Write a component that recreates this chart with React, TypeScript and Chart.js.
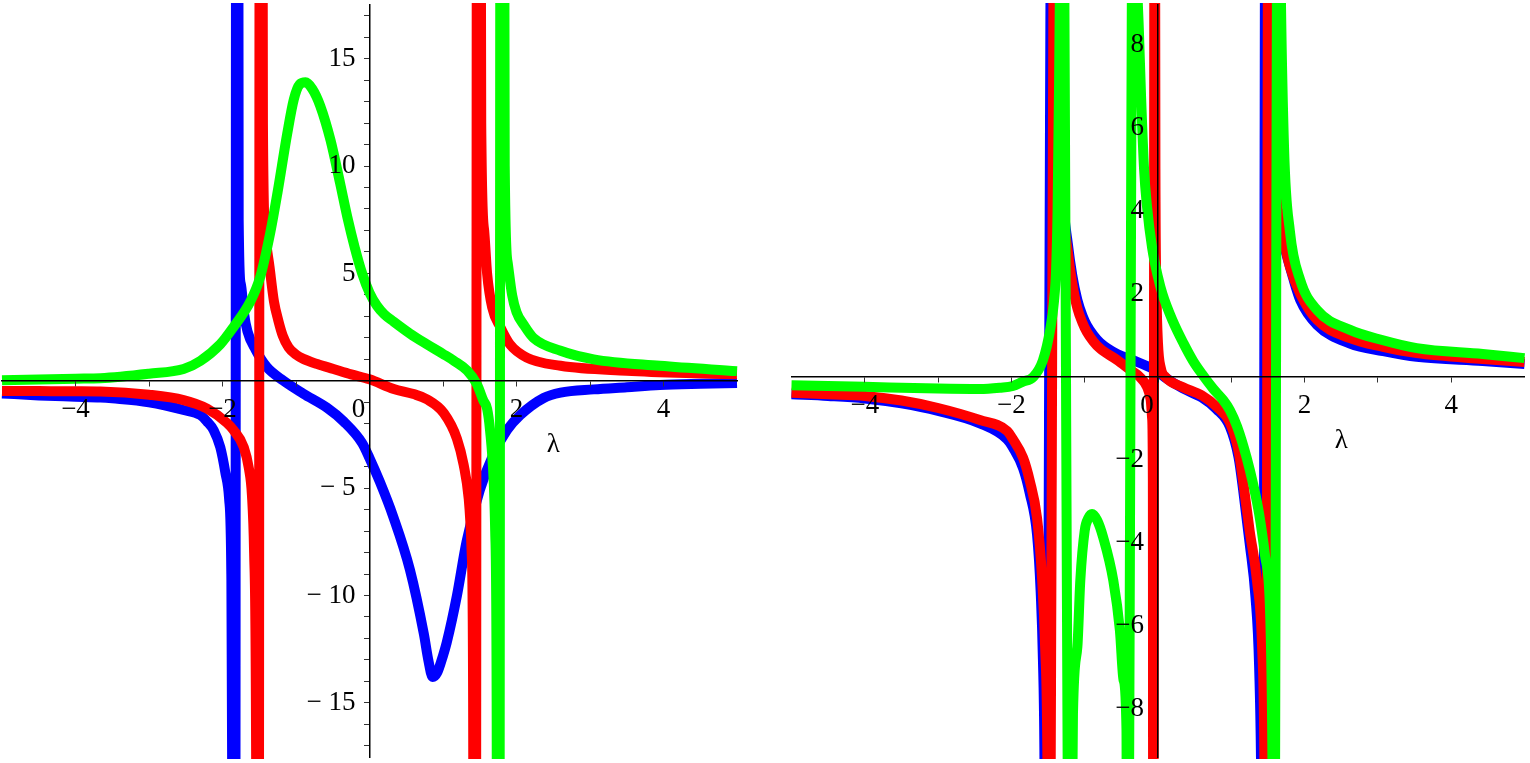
import React, { useEffect, useRef } from 'react';
import { Chart, registerables } from 'chart.js';

Chart.register(...registerables);

// ---------- data: left panel ----------
const leftBlueX = [-5, -4.5, -4, -3.66, -3.5, -3, -2.53, -2.3, -2.21, -2.12, -2.03, -1.96, -1.91, -1.88, -1.86, -1.84, -1.8, -1.78, -1.75, -1.71, -1.66, -1.55, -1.4, -1.17, -0.9, -0.58, -0.35, -0.1, 0, 0.14, 0.32, 0.55, 0.74, 0.8, 0.86, 0.92, 1.0, 1.05, 1.19, 1.32, 1.5, 1.69, 1.87, 2.05, 2.37, 2.6, 3.05, 3.5, 3.95, 4.5, 5];
const leftBlueY = [-0.59, -0.68, -0.74, -0.78, -0.82, -1.0, -1.36, -1.6, -1.9, -2.3, -3.1, -4.3, -5.5, -9, -25, -80, 80, 7.5, 4.5, 3.2, 2.3, 1.45, 0.65, 0.0, -0.6, -1.25, -1.9, -2.9, -3.6, -4.7, -6.3, -8.8, -11.8, -13.0, -13.8, -13.6, -12.8, -12.2, -10, -7.5, -5.1, -3.4, -2.3, -1.6, -0.8, -0.55, -0.4, -0.3, -0.2, -0.14, -0.1];

const leftRedX = [-5, -4.5, -4, -3.66, -3, -2.53, -2.21, -1.94, -1.85, -1.71, -1.64, -1.6, -1.57, -1.54, -1.52, -1.48, -1.45, -1.42, -1.36, -1.3, -1.24, -1.18, -1.1, -1.0, -0.9, -0.71, -0.49, -0.25, 0, 0.33, 0.6, 0.78, 1.01, 1.19, 1.28, 1.35, 1.39, 1.41, 1.43, 1.48, 1.52, 1.56, 1.6, 1.67, 1.78, 1.91, 2.14, 2.6, 3.5, 4.4, 5];
const leftRedY = [-0.47, -0.48, -0.49, -0.5, -0.65, -0.9, -1.3, -1.96, -2.3, -3.1, -4.1, -5.3, -8, -20, -80, 80, 12, 6.9, 5.3, 3.7, 2.8, 2.1, 1.55, 1.22, 1.02, 0.78, 0.55, 0.3, 0.07, -0.38, -0.62, -0.86, -1.5, -2.7, -3.9, -5.5, -8, -15, -80, 80, 12, 7, 5.0, 3.4, 2.5, 1.7, 1.08, 0.7, 0.47, 0.35, 0.3];

const leftGreenX = [-5, -4.5, -4, -3.66, -3, -2.53, -2.3, -2.03, -1.85, -1.62, -1.49, -1.35, -1.25, -1.12, -1.03, -0.95, -0.87, -0.78, -0.67, -0.53, -0.4, -0.3, -0.2, -0.1, 0, 0.1, 0.2, 0.33, 0.55, 0.78, 1.0, 1.15, 1.33, 1.46, 1.55, 1.6, 1.64, 1.69, 1.71, 1.73, 1.75, 1.8, 1.84, 1.88, 1.94, 2.0, 2.1, 2.23, 2.6, 3.05, 3.95, 5];
const leftGreenY = [0.02, 0.06, 0.1, 0.12, 0.33, 0.55, 0.93, 1.7, 2.5, 3.7, 4.8, 6.9, 8.8, 11.5, 13.1, 13.8, 13.9, 13.6, 12.8, 11.2, 9.2, 7.6, 6.2, 5.0, 4.1, 3.5, 3.1, 2.75, 2.2, 1.7, 1.25, 0.93, 0.47, -0.15, -0.93, -1.3, -2.3, -4.7, -7, -15, -80, 80, 10, 5.5, 4.0, 3.2, 2.6, 2.0, 1.4, 1.0, 0.7, 0.45];

// ---------- data: right panel ----------
const rightBlueX = [-5, -4.5, -4, -3.5, -3, -2.43, -2.06, -1.98, -1.84, -1.75, -1.65, -1.6, -1.57, -1.55, -1.53, -1.44, -1.4, -1.3, -1.23, -1.17, -1.1, -1.03, -0.97, -0.88, -0.79, -0.56, -0.34, -0.11, 0, 0.1, 0.34, 0.6, 0.8, 0.98, 1.1, 1.16, 1.25, 1.33, 1.38, 1.41, 1.43, 1.47, 1.5, 1.56, 1.62, 1.7, 1.84, 1.94, 2.17, 2.62, 3.07, 3.53, 4.43, 5];
const rightBlueY = [-0.42, -0.46, -0.52, -0.64, -0.82, -1.12, -1.5, -1.7, -2.2, -2.8, -3.8, -5.2, -6.8, -9, -16, 16, 9, 4.4, 3.2, 2.45, 1.85, 1.47, 1.24, 1.0, 0.82, 0.55, 0.4, 0.23, 0.12, -0.02, -0.28, -0.5, -0.78, -1.2, -1.95, -2.7, -4.0, -5.3, -7, -10, -16, 16, 7, 4.6, 3.9, 3.3, 2.4, 1.85, 1.25, 0.8, 0.62, 0.48, 0.38, 0.31];

const rightRedX = [-5, -4.5, -4, -3.5, -3, -2.43, -2.06, -1.98, -1.84, -1.75, -1.65, -1.58, -1.54, -1.51, -1.49, -1.4, -1.37, -1.3, -1.23, -1.17, -1.1, -1.03, -0.97, -0.88, -0.79, -0.56, -0.38, -0.25, -0.15, -0.1, -0.08, -0.07, -0.065, -0.045, -0.035, -0.02, 0, 0.04, 0.1, 0.34, 0.6, 0.8, 0.98, 1.1, 1.16, 1.25, 1.35, 1.42, 1.45, 1.47, 1.51, 1.55, 1.62, 1.7, 1.8, 1.94, 2.17, 2.62, 3.07, 3.53, 4.43, 5];
const rightRedY = [-0.38, -0.42, -0.46, -0.57, -0.75, -1.04, -1.3, -1.5, -1.95, -2.5, -3.4, -4.9, -6.5, -9, -16, 16, 8, 4.2, 3.0, 2.25, 1.65, 1.3, 1.08, 0.85, 0.68, 0.41, 0.17, 0.0, -0.24, -0.55, -1.0, -2.5, -16, 16, 5, 2, 0.8, 0.2, 0.0, -0.25, -0.45, -0.72, -1.1, -1.8, -2.5, -3.7, -4.9, -6.5, -9, -16, 16, 7, 4.3, 3.45, 2.65, 2.0, 1.37, 0.93, 0.72, 0.57, 0.43, 0.36];

const rightGreenX = [-5, -4, -3, -2.43, -2.16, -1.98, -1.85, -1.7, -1.57, -1.47, -1.42, -1.39, -1.37, -1.35, -1.33, -1.31, -1.2, -1.16, -1.1, -1.06, -1.0, -0.95, -0.9, -0.83, -0.75, -0.61, -0.52, -0.47, -0.43, -0.42, -0.33, -0.29, -0.26, -0.23, -0.19, -0.15, -0.08, 0, 0.06, 0.2, 0.35, 0.48, 0.6, 0.75, 0.89, 0.98, 1.08, 1.21, 1.3, 1.38, 1.46, 1.53, 1.56, 1.58, 1.64, 1.67, 1.72, 1.8, 1.94, 2.17, 2.62, 3.07, 3.53, 4.43, 5];
const rightGreenY = [-0.2, -0.24, -0.28, -0.29, -0.26, -0.22, -0.12, 0.0, 0.4, 1.15, 1.8, 2.6, 4, 7, 11, 16, -16, -8.1, -6.5, -4.9, -3.7, -3.4, -3.3, -3.45, -3.85, -4.9, -6.1, -7.3, -8.5, -16, 16, 10, 8.3, 6.7, 5.0, 4.1, 3.1, 2.4, 2.0, 1.35, 0.8, 0.38, 0.07, -0.28, -0.56, -0.8, -1.2, -1.95, -2.6, -3.3, -4.3, -5.7, -9, -16, 16, 10, 5.5, 3.5, 2.33, 1.61, 1.13, 0.88, 0.69, 0.55, 0.45];

// ---------- tick labels ----------
const xTickLabels = [-4, -2, 2, 4];
const leftYTickLabels = [-15, -10, -5, 5, 10, 15];
const rightYTickLabels = [-8, -6, -4, -2, 2, 4, 6, 8];
const xRange = [-5, 5];
const leftYRange = [-17.52, 17.5];
const rightYRange = [-9.15, 8.95];
const axisName = 'λ';
const originLabel = '0';

// ---------- styles ----------
const FONT_FAMILY = '"Liberation Serif", "Times New Roman", Times, serif';
const FONT_SIZE = 27;
const LINE_W = 10;
const BLUE = '#0000ff';
const RED = '#ff0000';
const GREEN = '#00ff00';

const pts = (xs: number[], ys: number[]) => xs.map((x, i) => ({ x, y: ys[i] }));
const minus = '\u2212';
const fmt = (v: number, spaced: boolean) =>
  v < 0 ? minus + (spaced ? ' ' : '') + String(Math.abs(v)) : String(v);

const zeroPad = (s: any) => {
  s.paddingLeft = 0;
  s.paddingRight = 0;
  s.paddingTop = 0;
  s.paddingBottom = 0;
};

const textPlugin = {
  id: 'mapleText',
  afterDraw(chart: any) {
    const { ctx } = chart;
    const xs = chart.scales.x;
    const ys = chart.scales.y;
    const x0 = xs.getPixelForValue(0);
    const y0 = ys.getPixelForValue(0);
    ctx.save();
    ctx.fillStyle = '#000';
    ctx.font = `${FONT_SIZE}px ${FONT_FAMILY}`;
    ctx.textAlign = 'center';
    ctx.textBaseline = 'middle';
    ctx.fillText(originLabel, x0 - 11, y0 + 13 + (FONT_SIZE * 1.2) / 2);
    ctx.fillText(axisName, xs.getPixelForValue(2.5), y0 + 64);
    ctx.restore();
  },
};

type Spec = {
  left: number;
  width: number;
  pad: { left: number; right: number; top: number; bottom: number };
  yRange: number[];
  yLabels: number[];
  spaced: boolean;
  series: { x: number[]; y: number[]; color: string; order: number }[];
};

const specs: Spec[] = [
  {
    left: 0,
    width: 760,
    pad: { left: 2, right: 23, top: 5, bottom: 6 },
    yRange: leftYRange,
    yLabels: leftYTickLabels,
    spaced: true,
    series: [
      { x: leftBlueX, y: leftBlueY, color: BLUE, order: 3 },
      { x: leftRedX, y: leftRedY, color: RED, order: 2 },
      { x: leftGreenX, y: leftGreenY, color: GREEN, order: 1 },
    ],
  },
  {
    left: 770,
    width: 760,
    pad: { left: 21.5, right: 5.5, top: 5, bottom: 6 },
    yRange: rightYRange,
    yLabels: rightYTickLabels,
    spaced: false,
    series: [
      { x: rightBlueX, y: rightBlueY, color: BLUE, order: 3 },
      { x: rightRedX, y: rightRedY, color: RED, order: 2 },
      { x: rightGreenX, y: rightGreenY, color: GREEN, order: 1 },
    ],
  },
];

function buildConfig(spec: Spec): any {
  const font = { family: FONT_FAMILY, size: FONT_SIZE, weight: 'normal' as const };
  return {
    type: 'line',
    data: {
      datasets: spec.series.map((s) => ({
        data: pts(s.x, s.y),
        borderColor: s.color,
        backgroundColor: s.color,
        borderWidth: LINE_W,
        pointRadius: 0,
        cubicInterpolationMode: 'monotone',
        fill: false,
        order: s.order,
        borderJoinStyle: 'round',
        xAxisID: 'x',
        yAxisID: 'y',
        clip: { left: 5, right: 5, top: 2, bottom: 2 },
      })),
    },
    options: {
      animation: false,
      responsive: false,
      maintainAspectRatio: false,
      events: [],
      layout: { padding: spec.pad },
      plugins: { legend: { display: false }, tooltip: { enabled: false }, title: { display: false } },
      scales: {
        x: {
          type: 'linear',
          min: xRange[0],
          max: xRange[1],
          position: { y: 0 },
          afterFit: zeroPad,
          grid: { display: true, drawOnChartArea: false, drawTicks: true, tickLength: 5, color: '#333', lineWidth: 1, z: 1 },
          border: { display: true, color: '#000', width: 1.5, z: 1 },
          ticks: {
            stepSize: 1,
            includeBounds: false,
            autoSkip: false,
            maxRotation: 0,
            minRotation: 0,
            padding: 8,
            color: '#000',
            font,
            z: 1,
            callback: (v: number) => (Math.abs(v) >= 5 ? null : xTickLabels.includes(v) ? fmt(v, false) : ''),
          },
        },
        y: {
          type: 'linear',
          min: spec.yRange[0],
          max: spec.yRange[1],
          position: { x: 0 },
          afterFit: zeroPad,
          grid: { display: true, drawOnChartArea: false, drawTicks: true, tickLength: 5, color: '#333', lineWidth: 1 },
          border: { display: true, color: '#000', width: 1.5, z: 1 },
          ticks: { display: false, stepSize: 1, includeBounds: false, callback: () => '' },
        },
        yl: {
          type: 'linear',
          axis: 'y',
          min: spec.yRange[0],
          max: spec.yRange[1],
          position: { x: -0.19 },
          afterFit: zeroPad,
          grid: { display: false, drawTicks: false, drawOnChartArea: false },
          border: { display: false },
          ticks: {
            stepSize: 1,
            includeBounds: false,
            autoSkip: false,
            padding: 0,
            color: '#000',
            font,
            z: 1,
            callback: (v: number) => (spec.yLabels.includes(v) ? fmt(v, spec.spaced) : ''),
          },
        },
      },
    },
    plugins: [textPlugin],
  };
}

function Panel({ spec }: { spec: Spec }) {
  const ref = useRef<HTMLCanvasElement | null>(null);
  useEffect(() => {
    if (!ref.current) return;
    const chart = new Chart(ref.current, buildConfig(spec));
    return () => chart.destroy();
  }, [spec]);
  return (
    <canvas
      ref={ref}
      width={spec.width}
      height={763}
      style={{ position: 'absolute', left: spec.left, top: 0, width: spec.width, height: 763 }}
    />
  );
}

export default function App() {
  return (
    <div
      style={{
        position: 'fixed',
        left: 0,
        top: 0,
        width: 1530,
        height: 763,
        background: '#fff',
        overflow: 'hidden',
      }}
    >
      {specs.map((s, i) => (
        <Panel key={i} spec={s} />
      ))}
    </div>
  );
}
